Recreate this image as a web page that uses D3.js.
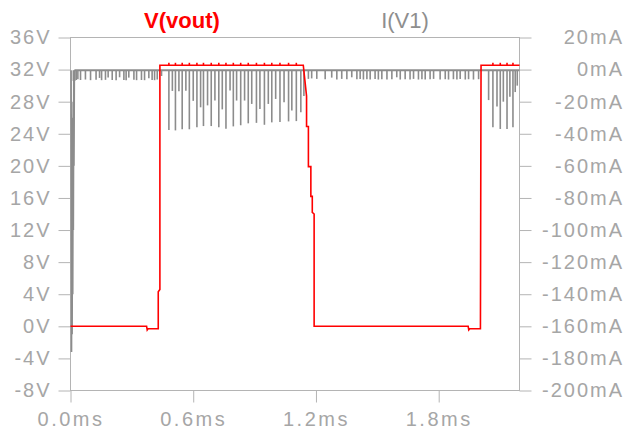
<html>
<head>
<style>
  body { margin: 0; background: #fff; }
  svg text { font-family: "Liberation Sans", Arial, sans-serif; }
</style>
</head>
<body>
<div id="chart"></div>
<script src="https://cdn.jsdelivr.net/npm/d3@7/dist/d3.min.js"></script>
<script>
// axis ticks
const timeTicks = [0, 0.6, 1.2, 1.8];
const timeLabels = ["0.0ms", "0.6ms", "1.2ms", "1.8ms"];
const voltTicks = [-8, -4, 0, 4, 8, 12, 16, 20, 24, 28, 32, 36];
const currTicks = [-200, -180, -160, -140, -120, -100, -80, -60, -40, -20, 0, 20];

// V(vout) in volts, [ms, V]
const vout = [
  [0, 0], [0.372, 0], [0.375, -0.45], [0.379, -0.3], [0.429, -0.3], [0.429, 4.3], [0.437, 4.6], [0.437, 32.55],
  [1.138, 32.55], [1.154, 28.7], [1.154, 24.9], [1.163, 24.9], [1.163, 19.9], [1.175, 19.9], [1.175, 16.2],
  [1.182, 16.2], [1.182, 14.2], [1.191, 14.0], [1.191, 0],
  [1.944, 0], [1.947, -0.45], [1.952, -0.3], [2.004, -0.3], [2.007, 32.55], [2.195, 32.55]
];
// small ripples on the high level of V(vout), [ms, V]
const voutBumps = [
  [0.481, 32.85], [0.513, 32.85], [0.546, 32.85], [0.581, 32.85], [0.618, 32.85], [0.650, 32.85],
  [0.688, 32.85], [0.725, 32.85], [0.760, 32.85], [0.796, 32.85], [0.832, 32.85], [0.869, 32.85],
  [0.909, 32.85], [0.948, 32.85], [0.984, 32.85], [1.024, 32.85], [1.066, 32.85], [1.104, 32.85],
  [2.065, 32.85], [2.101, 32.85], [2.134, 32.85], [2.163, 32.85]
];

// I(V1) in mA
const iBase = -0.4;
const iStart = [
  [0.003, -0.4], [0.005, -176], [0.007, -30], [0.008, -165], [0.010, -50], [0.011, -140],
  [0.013, -20], [0.014, -100], [0.016, -5], [0.017, -60], [0.019, -0.4]
];
// spikes below the 0mA line, [ms, mA]
const iSpikes = [
  [0.014, -7.0], [0.021, -7.0], [0.028, -6.5], [0.036, -6.0],
  [0.049, -6.5], [0.073, -6.2], [0.098, -6.6], [0.125, -6.4], [0.142, -5.2], [0.152, -6.6], [0.171, -6.4],
  [0.184, -5.0], [0.204, -6.5], [0.223, -6.6], [0.240, -4.8], [0.261, -6.5], [0.272, -6.6], [0.285, -5.0],
  [0.310, -6.4], [0.323, -6.6], [0.347, -6.5], [0.362, -6.6], [0.383, -5.4], [0.399, -6.5], [0.411, -6.6], [0.424, -6.2],
  [0.445, -4.0], [0.481, -37.6], [0.498, -13.3], [0.513, -37.9], [0.530, -13.5], [0.546, -37.2], [0.564, -13.2],
  [0.581, -37.2], [0.600, -19.5], [0.618, -36.0], [0.636, -23.5], [0.650, -35.2], [0.670, -22.3], [0.688, -35.2],
  [0.706, -19.3], [0.725, -36.0], [0.742, -24.8], [0.760, -36.9], [0.780, -13.1], [0.796, -35.4], [0.812, -19.3],
  [0.832, -34.7], [0.851, -19.3], [0.869, -33.5], [0.886, -21.4], [0.909, -33.2], [0.926, -24.6], [0.948, -34.4],
  [0.967, -21.4], [0.984, -32.9], [1.003, -18.3], [1.024, -32.6], [1.044, -20.4], [1.066, -32.3], [1.082, -25.5],
  [1.104, -32.1], [1.126, -26.6], [1.141, -16.5],
  [1.163, -5.8], [1.179, -5.5], [1.204, -5.8], [1.245, -6.0], [1.277, -5.0], [1.302, -6.2], [1.326, -5.8],
  [1.351, -6.0], [1.375, -4.8], [1.400, -6.0], [1.416, -5.8], [1.432, -6.2], [1.449, -6.0], [1.465, -6.2],
  [1.489, -5.8], [1.505, -6.2], [1.522, -6.0], [1.547, -6.2], [1.571, -6.0], [1.595, -4.8], [1.612, -6.2],
  [1.636, -6.0], [1.660, -6.2], [1.677, -5.8], [1.701, -6.2], [1.718, -6.0], [1.734, -6.2], [1.758, -6.0],
  [1.775, -5.8], [1.807, -6.2], [1.832, -6.0], [1.848, -6.2], [1.872, -6.0], [1.889, -6.2], [1.905, -5.8],
  [1.930, -6.2], [1.946, -6.0], [1.970, -6.2], [1.995, -6.0],
  [2.044, -19.0], [2.065, -36.0], [2.085, -23.0], [2.101, -37.0], [2.116, -20.0], [2.134, -37.0],
  [2.148, -17.0], [2.163, -36.0], [2.174, -14.0], [2.184, -10.0]
];

const width = 638, height = 430;
const plotLeft = 70.5, plotRight = 519.5, plotTop = 37.5, plotBottom = 390.5;
const axisColor = "#b4b4b4", labelColor = "#a6a6a6";

const svg = d3.select("#chart").append("svg")
  .attr("width", width)
  .attr("height", height);

const x = d3.scaleLinear().domain([0, 2.195]).range([plotLeft, plotRight]);
const yV = d3.scaleLinear().domain([-8, 36]).range([plotBottom, plotTop]);
const yI = d3.scaleLinear().domain([-200, 20]).range([plotBottom, plotTop]);

// frame
svg.append("rect")
  .attr("x", plotLeft).attr("y", plotTop)
  .attr("width", plotRight - plotLeft).attr("height", plotBottom - plotTop)
  .attr("fill", "none").attr("stroke", axisColor);

function styleAxis(g, ls) {
  g.select(".domain").remove();
  g.selectAll(".tick line").attr("stroke", axisColor);
  g.selectAll(".tick text")
    .attr("fill", labelColor)
    .style("font-size", "20px")
    .style("letter-spacing", ls + "px");
}

svg.append("g")
  .attr("transform", `translate(${plotLeft},0)`)
  .call(d3.axisLeft(yV).tickValues(voltTicks).tickFormat(d => d + "V").tickSize(12).tickPadding(7))
  .call(g => styleAxis(g, 2));

svg.append("g")
  .attr("transform", `translate(${plotRight},0)`)
  .call(d3.axisRight(yI).tickValues(currTicks).tickFormat(d => d + "mA").tickSize(12).tickPadding(4))
  .call(g => styleAxis(g, 2))
  .call(g => g.selectAll(".tick text").attr("text-anchor", "end").attr("x", 624 - plotRight));

svg.append("g")
  .attr("transform", `translate(0,${plotBottom})`)
  .call(d3.axisBottom(x).tickValues(timeTicks).tickFormat((d, i) => timeLabels[i]).tickSize(12).tickPadding(9))
  .call(g => styleAxis(g, 2.5));

// I(V1) trace
const gray = "#8c8c8c";
const lineI = d3.line().x(d => x(d[0])).y(d => yI(d[1]));
svg.append("path")
  .attr("d", lineI(iStart))
  .attr("fill", "none").attr("stroke", gray).attr("stroke-width", 1.6);
svg.append("line")
  .attr("x1", x(iStart[iStart.length - 1][0])).attr("x2", x(2.195))
  .attr("y1", yI(iBase)).attr("y2", yI(iBase))
  .attr("stroke", gray).attr("stroke-width", 2);
svg.append("g").selectAll("line")
  .data(iSpikes)
  .join("line")
  .attr("x1", d => x(d[0])).attr("x2", d => x(d[0]))
  .attr("y1", yI(iBase)).attr("y2", d => yI(d[1]))
  .attr("stroke", gray).attr("stroke-width", 1.6);

// V(vout) trace
const red = "#ff0000";
const lineV = d3.line().x(d => x(d[0])).y(d => yV(d[1]));
svg.append("path")
  .attr("d", lineV(vout))
  .attr("fill", "none").attr("stroke", red).attr("stroke-width", 1.6);
svg.append("g").selectAll("line")
  .data(voutBumps)
  .join("line")
  .attr("x1", d => x(d[0])).attr("x2", d => x(d[0]))
  .attr("y1", yV(32.55)).attr("y2", d => yV(d[1]))
  .attr("stroke", red).attr("stroke-width", 1.6);

// trace names
svg.append("text")
  .attr("x", 182).attr("y", 28)
  .attr("text-anchor", "middle")
  .attr("fill", red)
  .style("font-size", "22px").style("font-weight", "bold")
  .text("V(vout)");
svg.append("text")
  .attr("x", 405).attr("y", 28)
  .attr("text-anchor", "middle")
  .attr("fill", "#8e8e8e")
  .style("font-size", "22px")
  .text("I(V1)");
</script>
</body>
</html>
